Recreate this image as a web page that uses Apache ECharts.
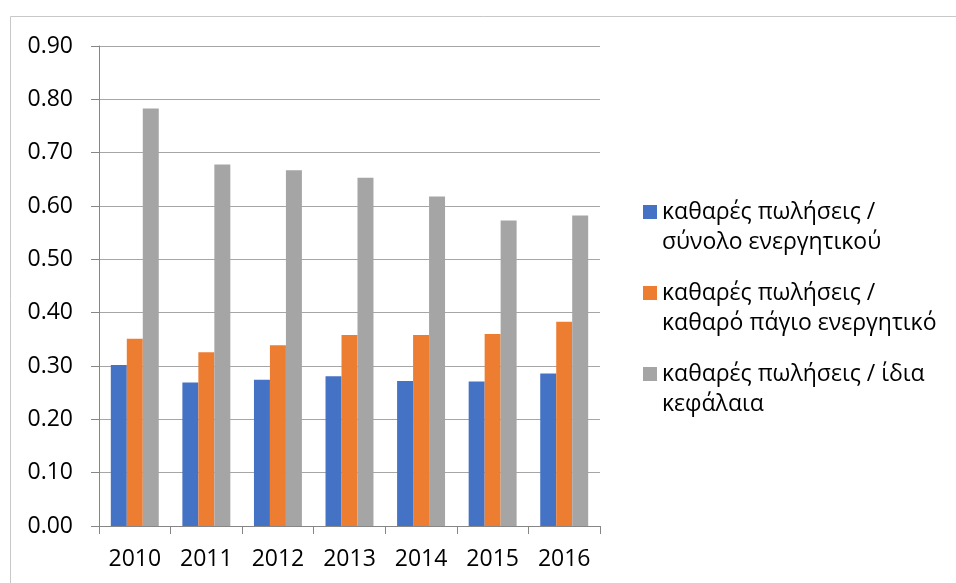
<!DOCTYPE html>
<html>
<head>
<meta charset="utf-8">
<script src="https://cdn.jsdelivr.net/npm/echarts@6/dist/echarts.min.js"></script>
<style>
  html, body { margin: 0; padding: 0; background: #fff; }
  #chart { width: 956px; height: 583px; }
</style>
</head>
<body>
<div id="chart"></div>
<script>
// Years on the category axis
const years = ['2010', '2011', '2012', '2013', '2014', '2015', '2016'];

// Series names (ratios of net sales)
const seriesNames = [
  'καθαρές πωλήσεις /\nσύνολο ενεργητικού',
  'καθαρές πωλήσεις /\nκαθαρό πάγιο ενεργητικό',
  'καθαρές πωλήσεις / ίδια\nκεφάλαια'
];

// Net sales / total assets
const salesToTotalAssets = [0.302, 0.269, 0.274, 0.281, 0.272, 0.271, 0.286];
// Net sales / net fixed assets
const salesToFixedAssets = [0.351, 0.326, 0.339, 0.358, 0.358, 0.360, 0.383];
// Net sales / equity
const salesToEquity = [0.783, 0.678, 0.667, 0.653, 0.618, 0.573, 0.582];

const colors = ['#4472C4', '#ED7D31', '#A5A5A5'];
const values = [salesToTotalAssets, salesToFixedAssets, salesToEquity];

const FONT = '"Open Sans", "Noto Sans", sans-serif';

const chart = echarts.init(document.getElementById('chart'), null, { renderer: 'canvas' });

// One legend block per series; a leading blank line keeps the marker
// level with the first line of the two-line name.
const legendTops = [167, 248, 329];
const legends = seriesNames.map((name, i) => ({
  data: [name],
  orient: 'vertical',
  left: 643,
  top: legendTops[i],
  padding: 0,
  itemWidth: 14,
  itemHeight: 14,
  itemGap: 0,
  icon: 'rect',
  selectedMode: false,
  formatter: n => '\n' + n,
  textStyle: {
    fontFamily: FONT,
    fontSize: 23,
    color: '#000',
    lineHeight: 30
  }
}));

chart.setOption({
  animation: false,
  backgroundColor: '#fff',
  color: colors,
  textStyle: { fontFamily: FONT },
  graphic: [
    {
      type: 'polyline',
      shape: { points: [[10.5, 583], [10.5, 16.5], [956, 16.5]] },
      style: { stroke: '#C8C8C8', lineWidth: 1, fill: null },
      silent: true
    }
  ],
  legend: legends,
  grid: { left: 99, right: 356, top: 46, bottom: 57, containLabel: false },
  xAxis: {
    type: 'category',
    data: years,
    axisLine: { show: true, lineStyle: { color: '#868686', width: 1 } },
    axisTick: { show: true, alignWithLabel: false, length: 8, lineStyle: { color: '#868686' } },
    axisLabel: { fontFamily: FONT, fontSize: 23, color: '#000', margin: 22 },
    splitLine: { show: false }
  },
  yAxis: {
    type: 'value',
    min: 0,
    max: 0.9,
    interval: 0.1,
    axisLine: { show: true, lineStyle: { color: '#868686', width: 1 } },
    axisTick: { show: true, inside: false, length: 8, lineStyle: { color: '#868686' } },
    axisLabel: {
      fontFamily: FONT, fontSize: 23, color: '#000', margin: 26,
      formatter: v => v.toFixed(2)
    },
    splitLine: { show: true, lineStyle: { color: '#A6A6A6', width: 1 } }
  },
  series: seriesNames.map((name, i) => ({
    name: name,
    type: 'bar',
    data: values[i],
    barGap: '0%',
    barCategoryGap: '33%',
    itemStyle: { color: colors[i] }
  }))
});
</script>
</body>
</html>
